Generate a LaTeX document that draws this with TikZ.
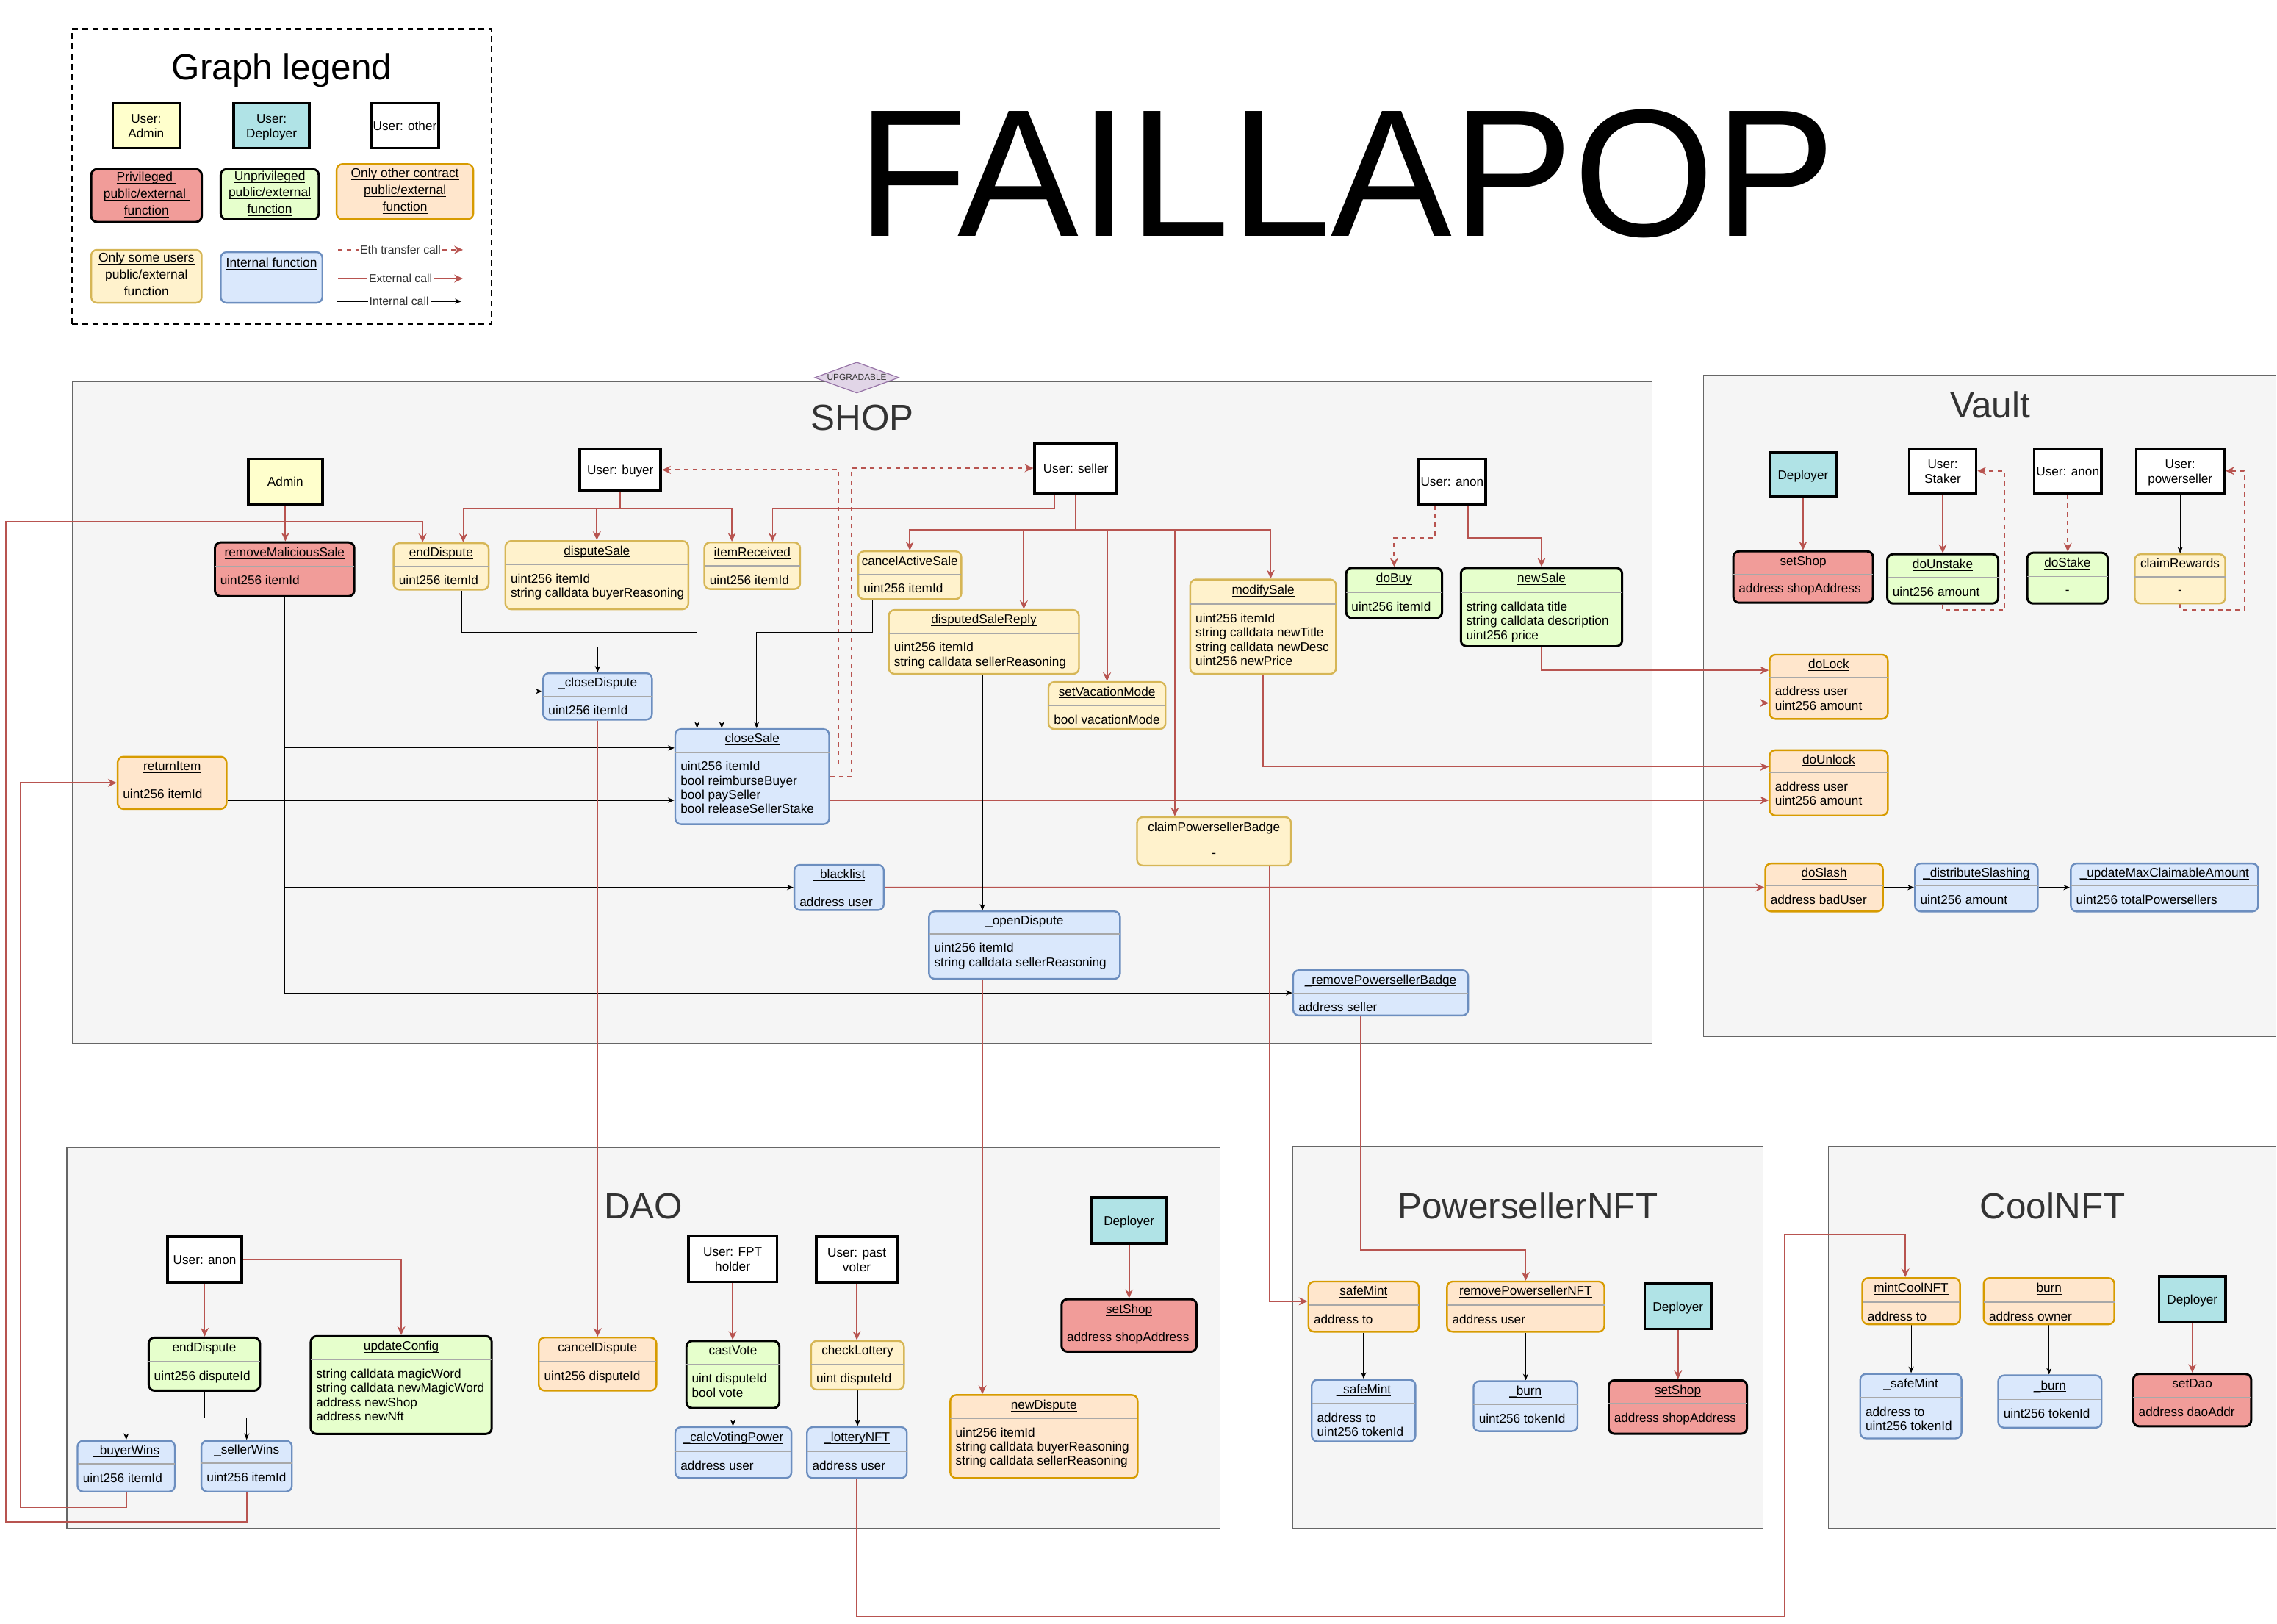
\documentclass[tikz,border=0pt]{standalone}
\usepackage{fontspec}
\setmainfont{Liberation Sans}
\usetikzlibrary{fit,shapes.geometric,arrows.meta}
\pgfdeclarelayer{bg}
\pgfdeclarelayer{edges}
\pgfsetlayers{bg,edges,main}
\definecolor{cRedF}{HTML}{F19C99}
\definecolor{cGreenF}{HTML}{E6FFCC}
\definecolor{cOrF}{HTML}{FFE6CC}
\definecolor{cOrS}{HTML}{D79B00}
\definecolor{cYeF}{HTML}{FFF2CC}
\definecolor{cYeS}{HTML}{D6B656}
\definecolor{cBlF}{HTML}{DAE8FC}
\definecolor{cBlS}{HTML}{6C8EBF}
\definecolor{cAdm}{HTML}{FFFFCC}
\definecolor{cDep}{HTML}{B0E3E6}
\definecolor{cCont}{HTML}{F5F5F5}
\definecolor{cContS}{HTML}{666666}
\definecolor{cTxt}{HTML}{333333}
\definecolor{cArr}{HTML}{B85450}
\definecolor{cPurF}{HTML}{E1D5E7}
\definecolor{cPurS}{HTML}{9673A6}
\definecolor{cSep}{HTML}{A8A8A8}
\newcommand\FS[2]{\fontsize{#1pt}{#2pt}\selectfont}
\newcommand\ULn[1]{\underline{\smash{#1}}}
\newcommand\ULl[1]{\underline{\smash{#1}}\rule[-1.5pt]{0pt}{7pt}}
\tikzset{
  fnbase/.style={rounded corners=4pt, line width=1.2pt, inner sep=0pt},
  fred/.style={fnbase, fill=cRedF, draw=black, line width=1.5pt},
  fgreen/.style={fnbase, fill=cGreenF, draw=black, line width=1.5pt},
  forange/.style={fnbase, fill=cOrF, draw=cOrS},
  fyellow/.style={fnbase, fill=cYeF, draw=cYeS},
  fblue/.style={fnbase, fill=cBlF, draw=cBlS},
  usr/.style={draw=black, line width=1.8pt, fill=white, inner sep=0pt},
  admin/.style={usr, fill=cAdm},
  deployer/.style={usr, fill=cDep},
  utext/.style={anchor=north, inner sep=0pt, align=center, font=\FS{8.7}{10}},
  container/.style={fill=cCont, draw=cContS, line width=0.7pt, inner sep=0pt},
  ctitle/.style={anchor=base, inner sep=0pt, text=cTxt, font=\FS{25}{30}},
  sepl/.style={draw=cSep, line width=0.8pt},
  ttl/.style={anchor=base, inner sep=0pt, font=\FS{8.7}{9.8}},
  bdy/.style={anchor=north west, inner sep=0pt, align=left, font=\FS{8.7}{9.8}},
  lgtext/.style={anchor=north, inner sep=0pt, align=center, font=\FS{8.8}{11.5}},
  lgl/.style={fill=white, inner sep=1pt, font=\FS{8}{9}, text=cTxt},
  ext/.style={draw=cArr, line width=0.9pt, -{Stealth[length=6pt,width=5.5pt]}},
  eth/.style={ext, dash pattern=on 3pt off 3pt},
  intl/.style={draw=black, line width=0.55pt, -{Stealth[length=4.5pt,width=3.6pt]}},
}
% name, style, x1, y1, x2, y2, separator y, title, body
\newcommand\FnBox[9]{%
  \node[#2, fit={(#3,#4) (#5,#6)}] (#1) {};
  \draw[sepl] (#3,#7) -- (#5,#7);
  \node[ttl] at ({(#3+#5)/2},{(#4+#7)/2+1.5}) {\ULn{#8}};
  \node[bdy] at ({#3+3.5},{#7+6}) {\rule{0pt}{6.5pt}#9};
}
% same with a centered "-" body
\newcommand\FnDash[8]{%
  \node[#2, fit={(#3,#4) (#5,#6)}] (#1) {};
  \draw[sepl] (#3,#7) -- (#5,#7);
  \node[ttl] at ({(#3+#5)/2},{(#4+#7)/2+1.5}) {\ULn{#8}};
  \node[ttl] at ({(#3+#5)/2},{(#7+#6)/2+2.6}) {-};
}
% name, style, x1, y1, x2, y2, number of lines, text
\newcommand\UsrBox[8]{%
  \node[#2, fit={(#3,#4) (#5,#6)}] (#1) {};
  \node[utext] at ({(#3+#5)/2},{(#4+#6)/2+3.1-(#7-1)*5-7}) {\rule{0pt}{7pt}#8};
}
% legend function box: name, style, x1, y1, x2, y2, text (3 lines)
\newcommand\LgBox[7]{%
  \node[#2, fit={(#3,#4) (#5,#6)}] (#1) {};
  \node[lgtext] at ({(#3+#5)/2},{(#4+#6)/2+3.1-11.5-7}) {#7};
}
\newcommand\VCon[3]{\draw[#1] (#2.south) -- (#2.south |- #3.north);}
\begin{document}
\begin{tikzpicture}[x=1pt,y=-1pt]
\useasboundingbox (0,0) rectangle (1568,1118);
\begin{pgfonlayer}{bg}
\fill[white] (0,0) rectangle (1568,1118);
\node[container, fit={(49.8,263) (1137.7,718.6)}] (shop) {};
\node[container, fit={(1173,258.4) (1567.3,713.6)}] (vault) {};
\node[container, fit={(46,790) (840,1052.6)}] (dao) {};
\node[container, fit={(890,789.6) (1214,1052.6)}] (pnft) {};
\node[container, fit={(1259,789.6) (1567.3,1052.6)}] (cnft) {};
\end{pgfonlayer}

% titles
\node[anchor=base, inner sep=0pt, font=\FS{125}{130}] (maintitle) at (927,162.8) {FAILLAPOP};
\node[ctitle] (shopT) at (593.7,296) {SHOP};
\node[ctitle] (vaultT) at (1370.5,287.5) {Vault};
\node[ctitle] (daoT) at (443,839) {DAO};
\node[ctitle] (pnftT) at (1052,839) {PowersellerNFT};
\node[ctitle] (cnftT) at (1413.5,839) {CoolNFT};
\node[diamond, aspect=2.4, draw=cPurS, fill=cPurF, line width=0.6pt, minimum width=58pt, inner sep=0pt, font=\FS{6}{7}, text=cTxt] (upg) at (590,260) {UPGRADABLE};

% ---------------- legend ----------------
\node[draw=black, line width=1.2pt, dash pattern=on 4pt off 3pt, inner sep=0pt, fit={(49.6,20) (338.6,223)}] (legend) {};
\node[anchor=base, inner sep=0pt, font=\FS{25}{30}] (legendT) at (194,54.8) {Graph legend};
\UsrBox{lgAdm}{admin}{77.6}{71}{123.6}{102}{2}{User:\\Admin}
\UsrBox{lgDep}{deployer}{161}{71}{213}{102}{2}{User:\\Deployer}
\UsrBox{lgOth}{usr}{255.6}{71}{302}{102}{1}{User: other}
\LgBox{lgPriv}{fred}{62.8}{116.5}{138.9}{152.8}{\ULl{Privileged }\\\ULl{public/external }\\\ULl{function}}
\LgBox{lgUnpriv}{fgreen}{152}{116.5}{219.5}{151}{\ULl{Unprivileged}\\\ULl{public/external}\\\ULl{function}}
\LgBox{lgOther}{forange}{231.8}{113}{325.9}{151}{\ULl{Only other contract}\\\ULl{public/external}\\\ULl{function}}
\LgBox{lgSome}{fyellow}{62.8}{172}{138.9}{208.5}{\ULl{Only some users}\\\ULl{public/external}\\\ULl{function}}
\node[fblue, fit={(152,173.6) (222,208.5)}] (lgInt) {};
\node[anchor=base, inner sep=0pt, font=\FS{8.8}{11.5}] (lgIntT) at (187,183.8) {\ULn{Internal function}};
\coordinate (lgA1) at (232.8,172); \coordinate (lgA2) at (318.8,172);
\coordinate (lgB1) at (232.8,191.8); \coordinate (lgB2) at (318.8,191.8);
\coordinate (lgC1) at (231.8,207.5); \coordinate (lgC2) at (317.8,207.5);

% ---------------- SHOP ----------------
\UsrBox{admin}{admin}{171}{316}{222}{347}{1}{Admin}
\UsrBox{buyer}{usr}{399.3}{309}{455}{338}{1}{User: buyer}
\UsrBox{seller}{usr}{712.5}{305}{769}{339.6}{1}{User: seller}
\UsrBox{sanon}{usr}{977}{316}{1023}{347}{1}{User: anon}
\FnBox{rms}{fred}{148}{373.5}{244}{410.5}{390}{removeMaliciousSale}{uint256 itemId}
\FnBox{eds}{fyellow}{271}{374}{336.5}{406}{390}{endDispute}{uint256 itemId}
\FnBox{dsale}{fyellow}{348}{372.5}{474}{419.5}{388.6}{disputeSale}{uint256 itemId\\string calldata buyerReasoning}
\FnBox{ir}{fyellow}{485}{373.5}{551}{405.6}{389.7}{itemReceived}{uint256 itemId}
\FnBox{cas}{fyellow}{591}{379.6}{662}{412.5}{395.6}{cancelActiveSale}{uint256 itemId}
\FnBox{dsr}{fyellow}{612}{420}{743}{464}{436}{disputedSaleReply}{uint256 itemId\\string calldata sellerReasoning}
\FnBox{svm}{fyellow}{722}{469.6}{802.6}{502}{485.8}{setVacationMode}{bool vacationMode}
\FnBox{ms}{fyellow}{819.6}{399}{920}{464}{416}{modifySale}{uint256 itemId\\string calldata newTitle\\string calldata newDesc\\uint256 newPrice}
\FnBox{db}{fgreen}{927}{391}{993}{425.5}{408}{doBuy}{uint256 itemId}
\FnBox{ns}{fgreen}{1006}{391}{1117}{445}{408}{newSale}{string calldata title\\string calldata description\\uint256 price}
\FnDash{cpb}{fyellow}{783}{562.6}{889}{596}{579}{claimPowersellerBadge}
\FnBox{cd}{fblue}{374}{463.5}{449}{495.5}{479.6}{\_closeDispute}{uint256 itemId}
\FnBox{cs}{fblue}{465}{502}{571}{567.5}{518}{closeSale}{uint256 itemId\\bool reimburseBuyer\\bool paySeller\\bool releaseSellerStake}
\FnBox{ri}{forange}{81}{521}{156}{557}{537}{returnItem}{uint256 itemId}
\FnBox{bl}{fblue}{547}{595.5}{608.6}{626.6}{611.5}{\_blacklist}{address user}
\FnBox{od}{fblue}{639.7}{627.5}{771.3}{674}{643}{\_openDispute}{uint256 itemId\\string calldata sellerReasoning}
\FnBox{rpb}{fblue}{890.5}{668}{1011}{699.2}{684}{\_removePowersellerBadge}{address seller}

% ---------------- Vault ----------------
\UsrBox{vdep}{deployer}{1218.6}{311.8}{1264.6}{342}{1}{Deployer}
\FnBox{vss}{fred}{1193.6}{379.6}{1289.8}{415}{395.6}{setShop}{address shopAddress}
\UsrBox{staker}{usr}{1314.8}{308.8}{1360.8}{339.6}{2}{User:\\Staker}
\FnBox{dus}{fgreen}{1299.6}{381.6}{1376}{415.5}{397.8}{doUnstake}{uint256 amount}
\UsrBox{vanon}{usr}{1400.8}{308.8}{1447}{339.6}{1}{User: anon}
\FnDash{dst}{fgreen}{1396}{380.6}{1451.4}{415.5}{397}{doStake}
\UsrBox{ps}{usr}{1471}{308.8}{1531.6}{339.6}{2}{User:\\powerseller}
\FnDash{cr}{fyellow}{1470}{381.6}{1532.4}{415.5}{397.3}{claimRewards}
\FnBox{dl}{forange}{1218.6}{450.8}{1300}{495}{466.4}{doLock}{address user\\uint256 amount}
\FnBox{dul}{forange}{1218.6}{516.5}{1300}{561.5}{532}{doUnlock}{address user\\uint256 amount}
\FnBox{dsl}{forange}{1215.6}{594.6}{1296.6}{627.6}{610}{doSlash}{address badUser}
\FnBox{dis}{fblue}{1318.7}{594.6}{1403.3}{627.6}{610}{\_distributeSlashing}{uint256 amount}
\FnBox{uma}{fblue}{1426}{594.6}{1555}{627.6}{610}{\_updateMaxClaimableAmount}{uint256 totalPowersellers}

% ---------------- DAO ----------------
\UsrBox{danon}{usr}{115.4}{851.6}{166.5}{883}{1}{User: anon}
\FnBox{dend}{fgreen}{102.4}{921}{179}{957.5}{937.6}{endDispute}{uint256 disputeId}
\FnBox{uc}{fgreen}{214}{920}{338.6}{987.3}{936.3}{updateConfig}{string calldata magicWord\\string calldata newMagicWord\\address newShop\\address newNft}
\FnBox{cand}{forange}{371}{921}{452}{957.5}{937.6}{cancelDispute}{uint256 disputeId}
\UsrBox{fpt}{usr}{474}{851}{535}{882.6}{2}{User: FPT\\holder}
\UsrBox{past}{usr}{562}{851.6}{618}{883}{2}{User: past\\voter}
\FnBox{cv}{fgreen}{472.7}{923.3}{536.7}{969.5}{939.4}{castVote}{uint disputeId\\bool vote}
\FnBox{cl}{fyellow}{558.5}{923.3}{622.5}{956.8}{939.4}{checkLottery}{uint disputeId}
\UsrBox{ddep}{deployer}{752}{824.7}{803}{856}{1}{Deployer}
\FnBox{dss}{fred}{731}{894.6}{824}{930.7}{911}{setShop}{address shopAddress}
\FnBox{bw}{fblue}{53.4}{992}{120.4}{1027}{1008}{\_buyerWins}{uint256 itemId}
\FnBox{sw}{fblue}{138.7}{992}{201}{1027}{1007.5}{\_sellerWins}{uint256 itemId}
\FnBox{cvp}{fblue}{465}{982.6}{545}{1017.7}{999.3}{\_calcVotingPower}{address user}
\FnBox{ln}{fblue}{555.7}{982.6}{624.5}{1017.7}{999.3}{\_lotteryNFT}{address user}
\FnBox{nd}{forange}{654.4}{960.5}{783.4}{1017.7}{976.5}{newDispute}{uint256 itemId\\string calldata buyerReasoning\\string calldata sellerReasoning}

% ---------------- PowersellerNFT ----------------
\FnBox{sm}{forange}{901}{882.4}{977}{917}{898.6}{safeMint}{address to}
\FnBox{rpn}{forange}{996.4}{882.4}{1104.8}{917}{898.6}{removePowersellerNFT}{address user}
\UsrBox{pdep}{deployer}{1132.6}{884}{1178.4}{915}{1}{Deployer}
\FnBox{psm}{fblue}{903.3}{950}{974.7}{992.5}{966.4}{\_safeMint}{address to\\uint256 tokenId}
\FnBox{pburn}{fblue}{1014.7}{951}{1086.3}{985.4}{967}{\_burn}{uint256 tokenId}
\FnBox{pss}{fred}{1107.8}{950.4}{1203}{987.2}{966.5}{setShop}{address shopAddress}

% ---------------- CoolNFT ----------------
\FnBox{mcn}{forange}{1282.4}{880}{1349.7}{911.8}{896.6}{mintCoolNFT}{address to}
\FnBox{cbn}{forange}{1366}{880}{1456}{911.8}{896.6}{burn}{address owner}
\UsrBox{cdep}{deployer}{1486.7}{879}{1532.7}{910.3}{1}{Deployer}
\FnBox{csm}{fblue}{1281}{946}{1350.7}{990.4}{962.3}{\_safeMint}{address to\\uint256 tokenId}
\FnBox{cbn2}{fblue}{1376}{947}{1447.2}{983}{963.6}{\_burn}{uint256 tokenId}
\FnBox{sdao}{fred}{1469}{946}{1550.2}{982}{962.3}{setDao}{address daoAddr}

% ---------------- connectors ----------------
\begin{pgfonlayer}{edges}
% legend samples
\draw[eth] (lgA1) -- node[lgl]{Eth transfer call} (lgA2);
\draw[ext] (lgB1) -- node[lgl]{External call} (lgB2);
\draw[intl] (lgC1) -- node[lgl]{Internal call} (lgC2);

% SHOP
\draw[ext] (admin.south) -- (admin.south |- rms.north);
\draw[ext] (buyer.south) -- ++(0,11) -| ([xshift=15.25pt]eds.north);
\draw[ext] (buyer.south) -- ++(0,11) -| (dsale.north);
\draw[ext] (buyer.south) -- ++(0,11) -| ([xshift=-14pt]ir.north);
\draw[ext] ([xshift=-14.7pt]seller.south) -- ++(0,9.4) -| ([xshift=14pt]ir.north);
\draw[ext] (seller.south) -- ++(0,24.4) -| (cas.north);
\draw[ext] (seller.south) -- ++(0,24.4) -| ([xshift=27.5pt]dsr.north);
\draw[ext] (seller.south) -- ++(0,24.4) -| (svm.north);
\draw[ext] (seller.south) -- ++(0,24.4) -| ([xshift=-27pt]cpb.north);
\draw[ext] (seller.south) -- ++(0,24.4) -| ([xshift=5.2pt]ms.north);
\draw[eth] ([yshift=8.75pt]cs.east) -- ++(6,0) |- (buyer.east);
\draw[eth] ([yshift=-0.25pt]cs.east) -- ++(15,0) |- (seller.west);
\draw[eth] ([xshift=-12pt]sanon.south) -- ++(0,22.5) -| (db.north);
\draw[ext] ([xshift=11pt]sanon.south) -- ++(0,22.5) -| (ns.north);

\draw[intl] ([xshift=-25.5pt]cas.south) -- ++(0,22.5) -| ([xshift=3pt]cs.north);
\draw[intl] ([xshift=4.25pt]eds.south) -- ++(0,39) -| (cd.north);
\draw[intl] ([xshift=14.25pt]eds.south) -- ++(0,29) -| ([xshift=-38pt]cs.north);
\coordinate (ir1) at ([xshift=-21pt]ir.south);
\draw[intl] (ir1) -- (ir1 |- cs.north);
\draw[intl] (rms.south) |- ([yshift=3.5pt]cd.west);
\draw[intl] (rms.south) |- ([yshift=19.75pt]cs.west);
\draw[intl] (rms.south) |- (bl.west);
\draw[intl] (rms.south) |- (rpb.west);
\draw[intl] ([yshift=-12pt]ri.east) -- ([yshift=-16.25pt]cs.west);
\draw[ext] (bw.south) |- (14,1038) |- (ri.west);
\coordinate (edsIn) at ([xshift=-12.75pt]eds.north);
\draw[ext] (sw.south) |- (4,1048) -- (4,359) -| (edsIn);

\draw[ext] ([yshift=-16.25pt]cs.east) -- ([yshift=-12pt]dul.west);
\draw[ext] (ns.south) |- ([yshift=11.4pt]dl.west);
\draw[ext] (ms.south) |- ([yshift=-11.1pt]dl.west);
\draw[ext] (ms.south) |- ([yshift=11pt]dul.west);
\draw[ext] (bl.east) -- (dsl.west);
\draw[intl] (dsl.east) -- (dis.west);
\draw[intl] (dis.east) -- (uma.west);
\coordinate (dsr1) at ([xshift=-1pt]dsr.south);
\draw[intl] (dsr1) -- (dsr1 |- od.north);
\coordinate (od1) at (dsr1 |- od.south);
\draw[ext] (od1) -- (od1 |- nd.north);
\draw[ext] (cd.south) -- (cd.south |- cand.north);
\coordinate (cpb1) at ([xshift=38pt]cpb.south);
\draw[ext] (cpb1) |- ([yshift=3.7pt]sm.west);
\draw[ext] ([xshift=-13.75pt]rpb.south) -- ++(0,160.8) -| (rpn.north);
\draw[ext] (ln.south) |- (1229,1113) -- (1229,850) -| ([xshift=-4pt]mcn.north);

% Vault
\VCon{ext}{vdep}{vss}
\VCon{ext}{staker}{dus}
\draw[eth] (dus.south) |- (1380.5,420) |- (staker.east);
\VCon{eth}{vanon}{dst}
\VCon{intl}{ps}{cr}
\draw[eth] (cr.south) |- (1545.5,420) |- (ps.east);

% DAO
\VCon{ext}{danon}{dend}
\draw[ext] (danon.east) -| (uc.north);
\draw[intl] (dend.south) -- ++(0,18) -| (bw.north);
\draw[intl] (dend.south) -- ++(0,18) -| (sw.north);
\VCon{ext}{fpt}{cv}
\VCon{intl}{cv}{cvp}
\VCon{ext}{past}{cl}
\VCon{intl}{cl}{ln}
\VCon{ext}{ddep}{dss}

% PowersellerNFT
\VCon{intl}{sm}{psm}
\VCon{intl}{rpn}{pburn}
\VCon{ext}{pdep}{pss}

% CoolNFT
\VCon{intl}{mcn}{csm}
\VCon{intl}{cbn}{cbn2}
\VCon{ext}{cdep}{sdao}
\end{pgfonlayer}
\end{tikzpicture}
\end{document}
